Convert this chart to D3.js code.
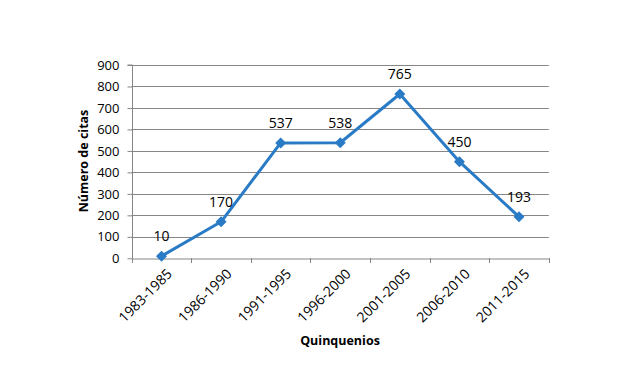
<!DOCTYPE html>
<html><head><meta charset="utf-8">
<script src="https://cdn.jsdelivr.net/npm/d3@7"></script>
<style>body{margin:0;background:#fff}svg{display:block}text{font-family:"Open Sans","Liberation Sans",sans-serif}</style>
</head><body><svg id="c" width="644" height="388"></svg>
<script>
const categories = ["1983-1985","1986-1990","1991-1995","1996-2000","2001-2005","2006-2010","2011-2015"];
const values = [10,170,537,538,765,450,193];
const yTicks = [0,100,200,300,400,500,600,700,800,900];

const svg = d3.select("#c");
const L=131.7, R=548.8, T=65, B=258.3;
const x = d3.scaleBand().domain(categories).range([L,R]);
const y = d3.scaleLinear().domain([0,900]).range([B,T]);
const grid="#868686";

svg.append("g").selectAll("line").data(yTicks.slice(1)).join("line")
  .attr("x1",L).attr("x2",R).attr("y1",d=>Math.round(y(d))+0.5).attr("y2",d=>Math.round(y(d))+0.5)
  .attr("stroke",grid).attr("stroke-width",1);

const ya = svg.append("g").attr("transform",`translate(${Math.round(L)+0.5},0)`)
  .call(d3.axisLeft(y).tickValues(yTicks).tickSize(5).tickPadding(8).tickFormat(d3.format("d")));
ya.select(".domain").attr("stroke",grid).attr("d",`M-5,${T}H0V${B}`);
ya.selectAll(".tick line").attr("stroke",grid);
ya.selectAll("text").attr("font-size",13).attr("fill","#000").attr("font-family","Open Sans, Liberation Sans, sans-serif");

const xa = svg.append("g").attr("transform",`translate(0,${Math.round(B)+0.5})`)
  .call(d3.axisBottom(x).tickSize(0).tickFormat(""));
xa.select(".domain").attr("stroke",grid);
svg.append("g").selectAll("line").data(categories.concat([null])).join("line")
  .attr("x1",(d,i)=>Math.round(L+i*x.step())+0.5).attr("x2",(d,i)=>Math.round(L+i*x.step())+0.5)
  .attr("y1",Math.round(B)).attr("y2",Math.round(B)+5).attr("stroke",grid);

svg.append("g").selectAll("text").data(categories).join("text")
  .attr("transform",d=>`translate(${x(d)+x.bandwidth()/2+8},${B+13}) rotate(-45)`)
  .attr("text-anchor","end").attr("font-size",14).attr("fill","#000").attr("dy","0.35em").text(d=>d);

const cx = d=>x(d)+x.bandwidth()/2;
const data = categories.map((c,i)=>({c,v:values[i]}));
svg.append("path").datum(data)
  .attr("d",d3.line().x(d=>cx(d.c)).y(d=>y(d.v)))
  .attr("fill","none").attr("stroke","#2A7BC6").attr("stroke-width",3).attr("stroke-linejoin","round");
svg.append("g").selectAll("path").data(data).join("path")
  .attr("transform",d=>`translate(${cx(d.c)},${y(d.v)})`)
  .attr("d","M0,-5.5L5.5,0L0,5.5L-5.5,0Z").attr("fill","#2A7BC6");
svg.append("g").selectAll("text").data(data).join("text")
  .attr("x",d=>cx(d.c)).attr("y",d=>y(d.v)-15).attr("text-anchor","middle")
  .attr("font-size",14).attr("fill","#000").text(d=>d.v);

svg.append("text").attr("x",340).attr("y",345).attr("text-anchor","middle")
  .attr("font-size",12.5).attr("font-weight","bold").text("Quinquenios");
svg.append("text").attr("transform","translate(88,161) rotate(-90)").attr("text-anchor","middle")
  .attr("font-size",12.5).attr("font-weight","bold").text("Número de citas");
</script></body></html>
